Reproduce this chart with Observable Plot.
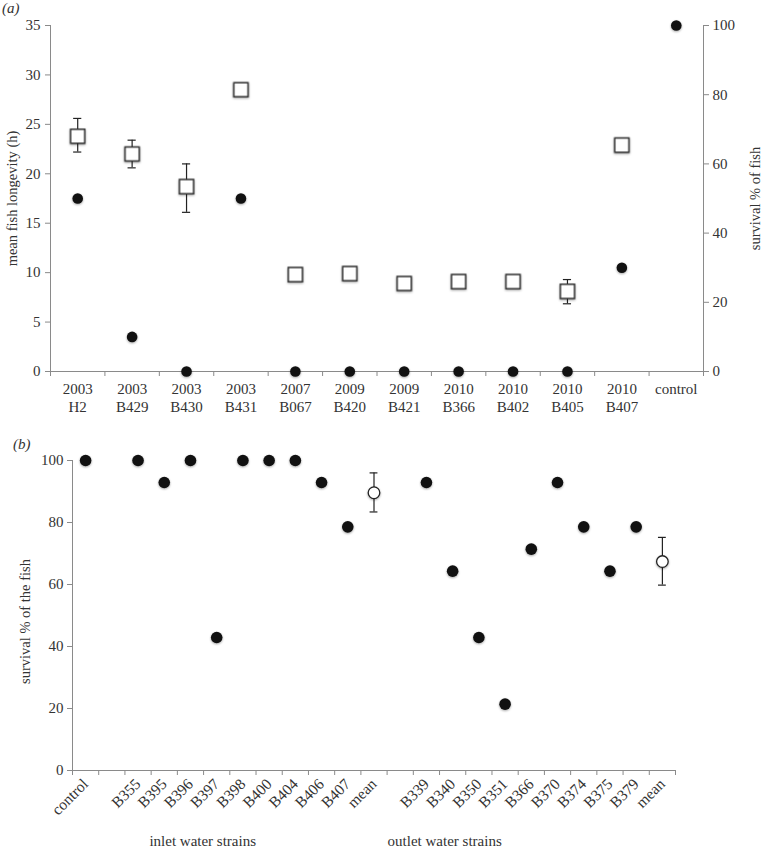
<!DOCTYPE html>
<html><head><meta charset="utf-8">
<script src="https://cdn.jsdelivr.net/npm/d3@7"></script>
<script src="https://cdn.jsdelivr.net/npm/@observablehq/plot@0.6"></script>
<style>
body{margin:0;background:#fff;font-family:"Liberation Serif",serif;}
#wrap{position:relative;width:763px;height:849px;overflow:hidden;}
.panel{position:absolute;left:0;}
.letter{position:absolute;font-style:italic;font-size:15px;color:#333;line-height:15px;}
</style></head><body>
<div id="wrap">
<div id="pa" class="panel" style="top:0"></div>
<div id="pb" class="panel" style="top:420px"></div>
<div class="letter" style="left:2px;top:1px">(a)</div>
<div class="letter" style="left:13px;top:437px">(b)</div>
</div>
<script>
// ---------- panel (a) data ----------
const topYears   = ["2003","2003","2003","2003","2007","2009","2009","2010","2010","2010","2010",""];
const topStrains = ["H2","B429","B430","B431","B067","B420","B421","B366","B402","B405","B407","control"];
const longevity   = [23.8, 22.0, 18.7, 28.5, 9.8, 9.9, 8.9, 9.1, 9.1, 8.1, 22.9, null];
const longevityLo = [22.2, 20.6, 16.1, null, null, null, null, null, null, 6.85, null, null];
const longevityHi = [25.6, 23.4, 21.0, null, null, null, null, null, null, 9.3, null, null];
const survivalA   = [50, 10, 0, 50, 0, 0, 0, 0, 0, 0, 30, 100];
const leftTicksA  = [0, 5, 10, 15, 20, 25, 30, 35];
const rightTicksA = [0, 20, 40, 60, 80, 100];

// ---------- panel (b) data ----------
const bSlots    = ["control","","B355","B395","B396","B397","B398","B400","B404","B406","B407","mean","","B339","B340","B350","B351","B366","B370","B374","B375","B379","mean"];
const bSurvival = [100,null,100,92.9,100,42.9,100,100,100,92.9,78.6,89.6,null,92.9,64.3,42.9,21.4,71.4,92.9,78.6,64.3,78.6,67.4];
const bLo       = [null,null,null,null,null,null,null,null,null,null,null,83.4,null,null,null,null,null,null,null,null,null,null,59.8];
const bHi       = [null,null,null,null,null,null,null,null,null,null,null,96.0,null,null,null,null,null,null,null,null,null,null,75.2];
const bTicks    = [0, 20, 40, 60, 80, 100];
const groupLabels = ["inlet water strains", "outlet water strains"];
const groupAnchor = ["B397", "B340"];

const AX = "#8a8a8a", TX = "#333";
const FONT = "Liberation Serif";

// ---------- panel (a) ----------
const nA = topStrains.length;
const K = 35 / 100; // right axis (0-100 %) mapped onto left axis (0-35 h)
const rowsA = d3.range(nA).map(i => ({i, c: i + 0.5, m: longevity[i], lo: longevityLo[i], hi: longevityHi[i], s: survivalA[i] * K}));
const capA = 0.075;

const plotA = Plot.plot({
  width: 763, height: 420,
  marginLeft: 50, marginRight: 60, marginTop: 25, marginBottom: 49,
  style: {fontFamily: FONT, fontSize: "15px", color: TX, background: "white", overflow: "visible"},
  x: {domain: [0, nA], axis: null},
  y: {domain: [0, 35], axis: null},
  marks: [
    Plot.axisY({anchor: "left", ticks: leftTicksA, tickSize: 5, tickPadding: 5, stroke: AX, fill: TX, label: null}),
    Plot.axisY({anchor: "right", ticks: rightTicksA.map(v => v * K), tickFormat: d => Math.round(d / K), tickSize: 5, tickPadding: 4, stroke: AX, fill: TX, label: null}),
    Plot.axisX({ticks: d3.range(0, nA + 1), tickSize: 5, tickFormat: () => "", stroke: AX, label: null}),
    Plot.axisX({ticks: rowsA.map(d => d.c), tickSize: 0, tickPadding: 10, lineHeight: 1.2, fill: TX, label: null,
      tickFormat: d => { const i = Math.floor(d); return topYears[i] ? topYears[i] + "\n" + topStrains[i] : topStrains[i]; }}),
    Plot.ruleX([0, nA], {stroke: AX}),
    Plot.ruleY([0], {stroke: AX}),
    Plot.ruleX(rowsA.filter(d => d.lo != null), {x: "c", y1: "lo", y2: "hi", stroke: "#222", strokeWidth: 1.2}),
    Plot.ruleY(rowsA.filter(d => d.lo != null), {y: "lo", x1: d => d.c - capA, x2: d => d.c + capA, stroke: "#222", strokeWidth: 1.2}),
    Plot.ruleY(rowsA.filter(d => d.hi != null), {y: "hi", x1: d => d.c - capA, x2: d => d.c + capA, stroke: "#222", strokeWidth: 1.2}),
    Plot.dot(rowsA.filter(d => d.m != null), {x: "c", y: "m", symbol: "square", r: 8, fill: "white", stroke: "#333", strokeWidth: 1.5}),
    Plot.dot(rowsA, {x: "c", y: "s", r: 5.3, fill: "#111", stroke: "none"}),
    Plot.text(["mean fish longevity (h)"], {frameAnchor: "left", textAnchor: "middle", rotate: -90, dx: -38, fontSize: 14.5, fill: TX}),
    Plot.text(["survival % of fish"], {frameAnchor: "right", textAnchor: "middle", rotate: -90, dx: 52, fontSize: 14.5, fill: TX})
  ]
});
document.getElementById("pa").append(plotA);

// ---------- panel (b) ----------
const nB = bSlots.length;
const rowsB = d3.range(nB).map(i => ({i, c: i + 0.5, label: bSlots[i], v: bSurvival[i], lo: bLo[i], hi: bHi[i], mean: bSlots[i] === "mean"}));
const capB = 0.15;
const groupRows = groupLabels.map((t, k) => ({t, c: bSlots.indexOf(groupAnchor[k]) + 0.5}));

const plotB = Plot.plot({
  width: 763, height: 429,
  marginLeft: 72, marginRight: 88, marginTop: 40, marginBottom: 79,
  style: {fontFamily: FONT, fontSize: "15px", color: TX, background: "white", overflow: "visible"},
  x: {domain: [0, nB], axis: null},
  y: {domain: [0, 100], axis: null},
  marks: [
    Plot.axisY({anchor: "left", ticks: bTicks, tickSize: 5, tickPadding: 4, stroke: AX, fill: TX, label: null}),
    Plot.axisX({ticks: d3.range(0, nB + 1), tickSize: 5, tickFormat: () => "", stroke: AX, label: null}),
    Plot.axisX({ticks: rowsB.filter(d => d.label).map(d => d.c), tickSize: 0, tickPadding: 11, tickRotate: -45, fill: TX, fontSize: 15.5, label: null,
      tickFormat: d => bSlots[Math.floor(d)]}),
    Plot.ruleX([0], {stroke: AX}),
    Plot.ruleY([0], {stroke: AX}),
    Plot.ruleX(rowsB.filter(d => d.lo != null), {x: "c", y1: "lo", y2: "hi", stroke: "#222", strokeWidth: 1.2}),
    Plot.ruleY(rowsB.filter(d => d.lo != null), {y: "lo", x1: d => d.c - capB, x2: d => d.c + capB, stroke: "#222", strokeWidth: 1.2}),
    Plot.ruleY(rowsB.filter(d => d.hi != null), {y: "hi", x1: d => d.c - capB, x2: d => d.c + capB, stroke: "#222", strokeWidth: 1.2}),
    Plot.dot(rowsB.filter(d => d.v != null && !d.mean), {x: "c", y: "v", r: 5.8, fill: "#111", stroke: "none"}),
    Plot.dot(rowsB.filter(d => d.mean), {x: "c", y: "v", r: 5.8, fill: "white", stroke: "#222", strokeWidth: 1.3}),
    Plot.text(groupRows.slice(0, 1), {x: "c", text: "t", frameAnchor: "bottom", lineAnchor: "middle", dy: 71, dx: -14, fontSize: 15, fill: TX}),
    Plot.text(groupRows.slice(1, 2), {x: "c", text: "t", frameAnchor: "bottom", lineAnchor: "middle", dy: 71, dx: -8, fontSize: 15, fill: TX}),
    Plot.text(["survival % of the fish"], {frameAnchor: "left", textAnchor: "middle", rotate: -90, dx: -47, dy: 6, fontSize: 14.5, fill: TX})
  ]
});
document.getElementById("pb").append(plotB);

// subtle drop shadow on markers, as in the reference
document.querySelectorAll('g[aria-label="dot"]').forEach(g => g.style.filter = "drop-shadow(0.6px 1.4px 0.8px rgba(0,0,0,0.35))");
</script>
</body></html>
